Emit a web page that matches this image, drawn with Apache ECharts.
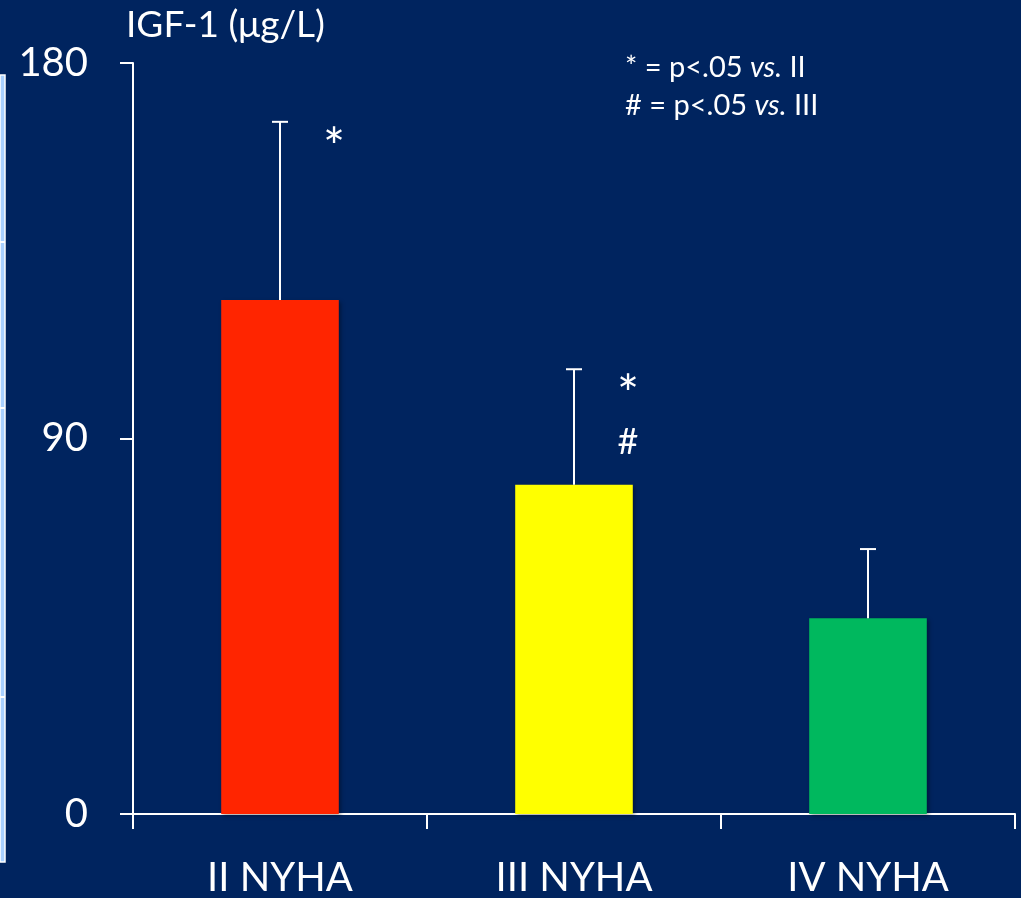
<!DOCTYPE html>
<html>
<head>
<meta charset="utf-8">
<script src="https://cdn.jsdelivr.net/npm/echarts@6/dist/echarts.min.js"></script>
<style>
html,body{margin:0;padding:0;background:#00245F;}
#chart{width:1021px;height:898px;}
</style>
</head>
<body>
<div id="chart"></div>
<script>
// ---- data ----
const categories = ['II NYHA', 'III NYHA', 'IV NYHA'];
const meanValues = [123.2, 78.9, 46.9];
const sdValues = [42.7, 27.7, 16.6];
const barColors = ['#FF2500', '#FFFF00', '#00B85E'];
const significance = [['*'], ['*', '#'], []];
const yTicks = [0, 90, 180];
const titleText = 'IGF-1 (μg/L)';

const FONT = 'Lato';
const chart = echarts.init(document.getElementById('chart'));

const option = {
  backgroundColor: '#00245F',
  animation: false,
  textStyle: { fontFamily: FONT },
  title: [
    {
      text: titleText, left: 121, top: 2,
      textStyle: { color: '#fff', fontSize: 37, fontWeight: 'normal', fontFamily: FONT }
    },
    {
      text: '{a|* = p<.05 }{i|vs.}{a| II}\n{a|# = p<.05 }{i|vs.}{a| III}',
      left: 620, top: 44,
      textStyle: {
        color: '#fff', fontFamily: FONT, fontWeight: 'normal',
        rich: {
          a: { color: '#fff', fontSize: 29, fontFamily: FONT, fontWeight: 'normal', lineHeight: 38 },
          i: { color: '#fff', fontSize: 29, fontFamily: FONT, fontWeight: 'normal', fontStyle: 'italic', lineHeight: 38 }
        }
      }
    }
  ],
  graphic: [
    { type: 'rect', shape: { x: 0, y: 75, width: 5, height: 787 }, style: { fill: '#A9D1FF', stroke: '#fff', lineWidth: 1.5 } },
    { type: 'line', shape: { x1: 0, y1: 242, x2: 5, y2: 242 }, style: { stroke: '#fff', lineWidth: 2 } },
    { type: 'line', shape: { x1: 0, y1: 408, x2: 5, y2: 408 }, style: { stroke: '#fff', lineWidth: 2 } },
    { type: 'line', shape: { x1: 0, y1: 697, x2: 5, y2: 697 }, style: { stroke: '#fff', lineWidth: 2 } }
  ],
  grid: { left: 133, right: 6, top: 63, bottom: 84 },
  xAxis: {
    type: 'category',
    data: categories,
    axisLine: { show: true, lineStyle: { color: '#fff', width: 2 } },
    axisTick: { show: true, length: 15, lineStyle: { color: '#fff', width: 2 } },
    axisLabel: { color: '#fff', fontSize: 40, fontFamily: FONT, margin: 44 },
    splitLine: { show: false }
  },
  yAxis: {
    type: 'value',
    min: yTicks[0], max: yTicks[yTicks.length - 1], interval: yTicks[1] - yTicks[0],
    axisLine: { show: true, lineStyle: { color: '#fff', width: 2 } },
    axisTick: { show: true, length: 13, lineStyle: { color: '#fff', width: 2 } },
    axisLabel: { color: '#fff', fontSize: 40, fontFamily: FONT, margin: 45, padding: [14, 0, 0, 0] },
    splitLine: { show: false }
  },
  series: [
    {
      type: 'bar',
      barWidth: '40%',
      data: meanValues.map((v, i) => ({ value: v, itemStyle: { color: barColors[i] } })),
      itemStyle: { shadowColor: 'rgba(0,0,0,0.35)', shadowBlur: 4, shadowOffsetX: 2, shadowOffsetY: 2 },
      z: 2
    },
    {
      type: 'custom',
      z: 3,
      data: meanValues.map((v, i) => [i, v, v + sdValues[i]]),
      renderItem: function (params, api) {
        const i = api.value(0);
        const base = api.coord([i, api.value(1)]);
        const top = api.coord([i, api.value(2)]);
        const cap = 8;
        const children = [
          { type: 'line', shape: { x1: base[0], y1: base[1], x2: top[0], y2: top[1] }, style: { stroke: '#fff', lineWidth: 2 } },
          { type: 'line', shape: { x1: top[0] - cap, y1: top[1], x2: top[0] + cap, y2: top[1] }, style: { stroke: '#fff', lineWidth: 2 } }
        ];
        significance[i].forEach((s, k) => {
          const isStar = s === '*';
          children.push({
            type: 'text',
            style: {
              text: s, x: top[0] + 54, y: top[1] + (isStar ? 27 : 24) + k * 49,
              fill: '#fff', font: (isStar ? '52px ' : '36px ') + FONT,
              textAlign: 'center', textVerticalAlign: 'middle'
            }
          });
        });
        return { type: 'group', children: children };
      }
    }
  ]
};
chart.setOption(option);
</script>
</body>
</html>
